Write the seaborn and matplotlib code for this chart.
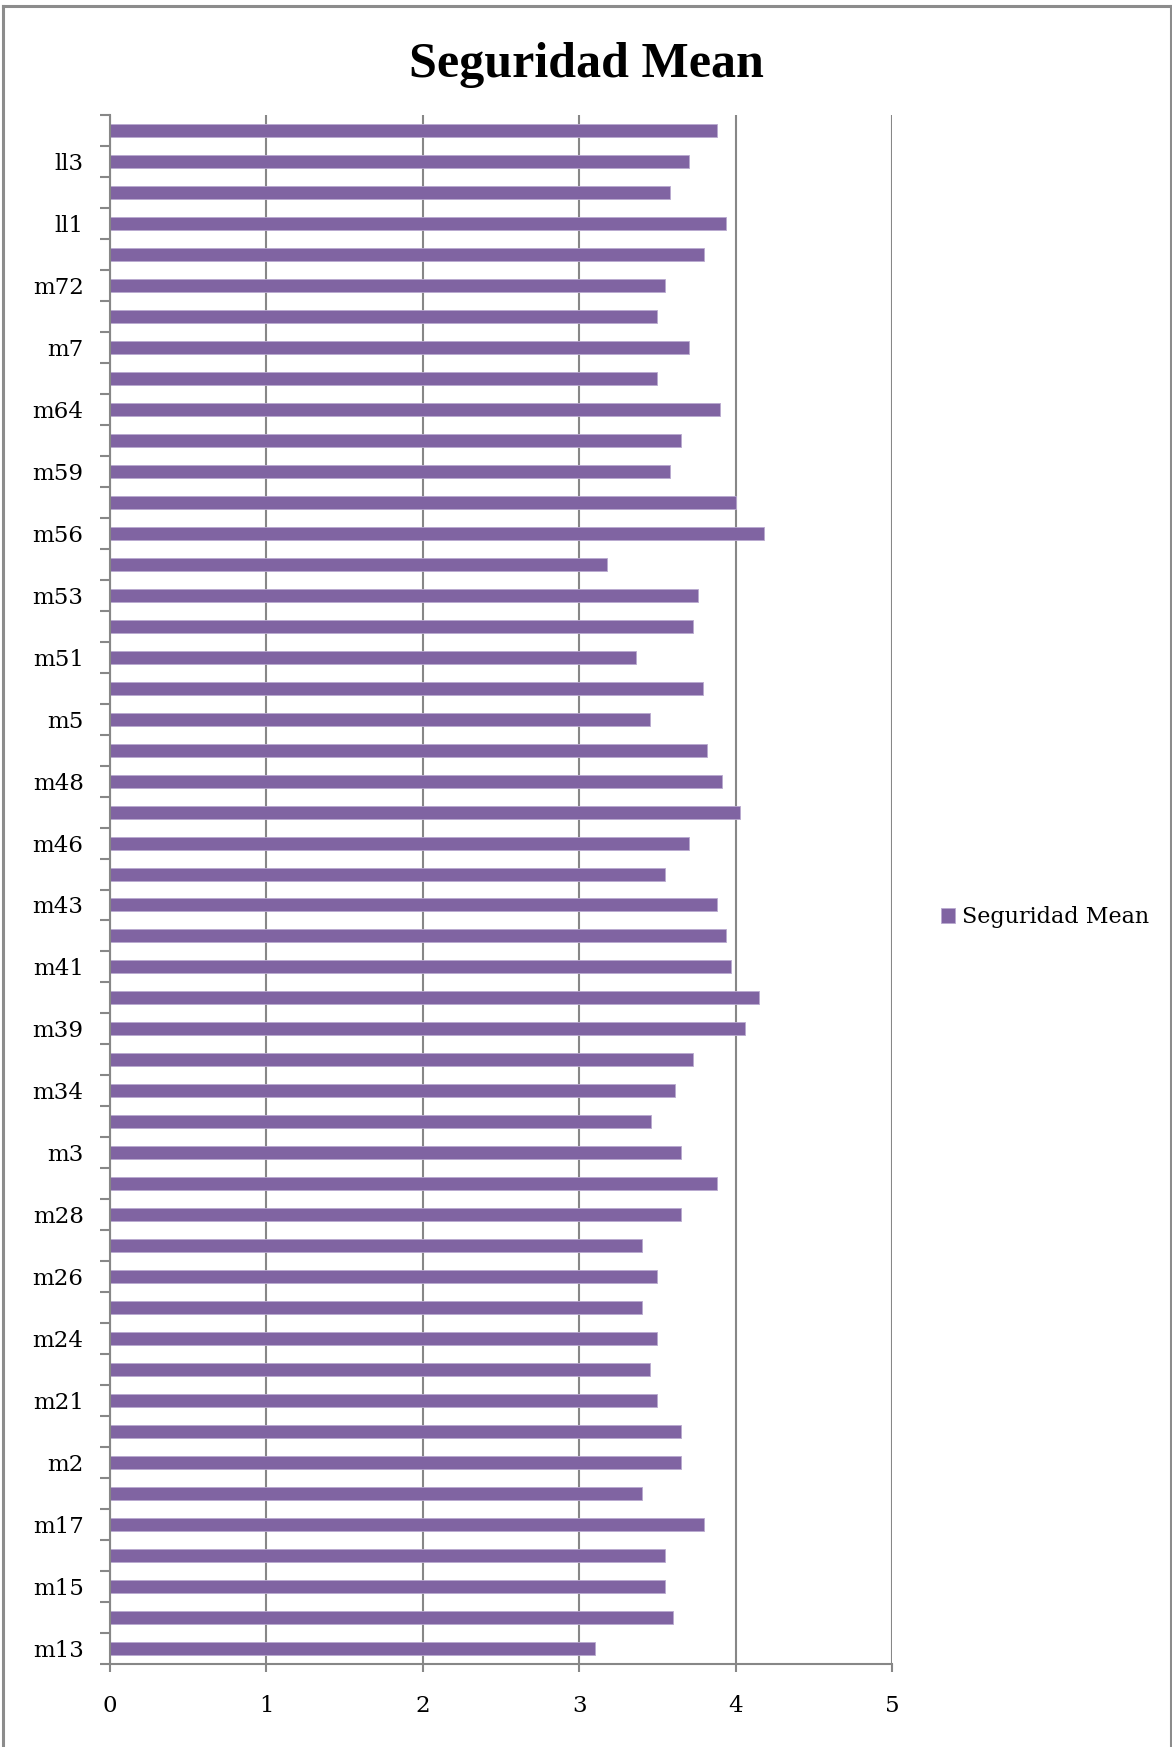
import numpy as np
import pandas as pd
import seaborn as sns
import matplotlib.pyplot as plt
from matplotlib.lines import Line2D
from matplotlib.ticker import FixedLocator

# categories listed top to bottom (only every other one shows a label)
categories = ["ll4", "ll3", "ll2", "ll1", "m9", "m72", "m71", "m7", "m65", "m64",
              "m60", "m59", "m57", "m56", "m54", "m53", "m52", "m51", "m50", "m5",
              "m49", "m48", "m47", "m46", "m44", "m43", "m42", "m41", "m40", "m39",
              "m36", "m34", "m32", "m3", "m29", "m28", "m27", "m26", "m25", "m24",
              "m22", "m21", "m20", "m2", "m19", "m17", "m16", "m15", "m14", "m13"]
values = [3.88, 3.70, 3.58, 3.94, 3.80, 3.55, 3.50, 3.70, 3.50, 3.90,
          3.65, 3.58, 4.00, 4.18, 3.18, 3.76, 3.73, 3.36, 3.79, 3.45,
          3.82, 3.91, 4.03, 3.70, 3.55, 3.88, 3.94, 3.97, 4.15, 4.06,
          3.73, 3.61, 3.46, 3.65, 3.88, 3.65, 3.40, 3.50, 3.40, 3.50,
          3.45, 3.50, 3.65, 3.65, 3.40, 3.80, 3.55, 3.55, 3.60, 3.10]
shown_labels = ["ll3", "ll1", "m72", "m7", "m64", "m59", "m56", "m53", "m51", "m5",
                "m48", "m46", "m43", "m41", "m39", "m34", "m3", "m28", "m26", "m24",
                "m21", "m2", "m17", "m15", "m13"]
x_ticks = [0, 1, 2, 3, 4, 5]
series_name = "Seguridad Mean"

df = pd.DataFrame({"cat": categories, "val": values})

W, H = 1172, 1747
fig = plt.figure(figsize=(W / 100, H / 100), dpi=100)
ax = fig.add_axes([110 / W, 1 - 1664 / H, (892 - 110) / W, (1664 - 115) / H])

grey = "#878787"
purple = "#8064A2"

sns.barplot(data=df, x="val", y="cat", order=categories, orient="h",
            color=purple, width=0.42, saturation=1, edgecolor="#b9a9cf",
            linewidth=0.6, label=series_name, ax=ax)

ax.set_xlim(0, 5)
ax.set_ylim(len(categories) - 0.5, -0.5)
ax.set_xlabel("")
ax.set_ylabel("")

for s in ["top", "right"]:
    ax.spines[s].set_visible(False)
for s in ["left", "bottom"]:
    ax.spines[s].set_color(grey)
    ax.spines[s].set_linewidth(1.5)

ax.set_xticks(x_ticks)
ax.set_xticklabels([str(t) for t in x_ticks])
ax.xaxis.grid(True, color=grey, linewidth=1.5)
ax.yaxis.grid(False)
ax.set_axisbelow(True)

# labels only on every other category, tick marks on category boundaries
pos = [categories.index(c) for c in shown_labels]
ax.set_yticks(pos)
ax.set_yticklabels(shown_labels)
ax.yaxis.set_minor_locator(FixedLocator(np.arange(-0.5, len(categories), 1.0)))
ax.tick_params(axis="y", which="major", length=0, pad=19)
ax.tick_params(axis="y", which="minor", length=7, width=1.5, color=grey, direction="out")
ax.tick_params(axis="x", which="major", length=6, width=1.5, color=grey, direction="out", pad=16)

font = "DejaVu Serif"
for lab in ax.get_yticklabels() + ax.get_xticklabels():
    lab.set_fontfamily(font)
    lab.set_fontsize(16.5)
    lab.set_color("black")

fig.text(0.5, 1 - 77 / H, "Seguridad Mean", ha="center", va="baseline",
         fontsize=36, fontweight="bold", family="Liberation Serif")

leg = ax.legend(loc="center left", bbox_to_anchor=(941 / W, 1 - 917 / H),
                bbox_transform=fig.transFigure, frameon=False, borderpad=0,
                borderaxespad=0, handlelength=0.65, handleheight=0.65,
                handletextpad=0.3, prop={"family": font, "size": 16})

# chart border
for xs, ys in [([3, 3], [6, H]), ([3, 1171], [6, 6]), ([1171, 1171], [6, H])]:
    fig.add_artist(Line2D([x / W for x in xs], [1 - y / H for y in ys],
                          transform=fig.transFigure, color="#8c8c8c", linewidth=2.2))

fig.savefig("out.png", dpi=100)
